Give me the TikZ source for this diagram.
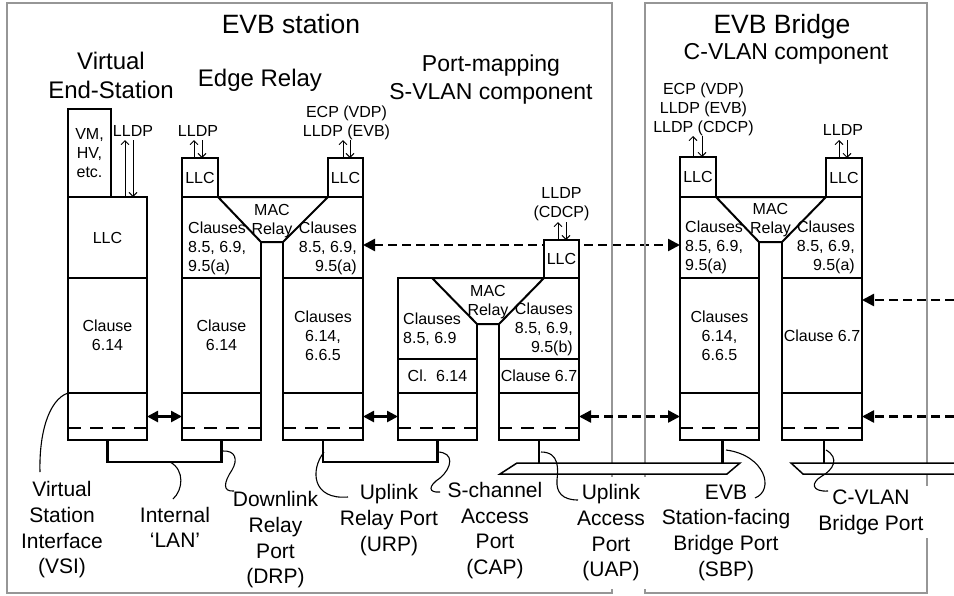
\documentclass[tikz,border=0pt]{standalone}
\usepackage{fontspec}
\setmainfont{Liberation Sans}
\usetikzlibrary{arrows.meta,backgrounds}
\definecolor{boxgray}{RGB}{150,150,150}
\newcommand\fsz[2]{\fontsize{#1}{#2}\selectfont}
\begin{document}
\begin{tikzpicture}[x=1pt,y=-1pt,
  graybox/.style={draw=boxgray,line width=1.6pt,inner sep=0pt,outer sep=0pt,anchor=north west},
  sect/.style={draw,line width=2pt,fill=white,inner sep=0pt,outer sep=0pt,anchor=north west,align=center,font=\fsz{16}{19}},
  trap/.style={draw,line width=2pt,fill=white},
  ctext/.style={inner sep=0pt,align=center,font=\fsz{16}{19}},
  ltext/.style={ctext,align=left,anchor=west},
  rtext/.style={ctext,align=right,anchor=east},
  head/.style={inner sep=0pt,align=center,font=\fsz{24}{29}},
  subhead/.style={inner sep=0pt,align=center,font=\fsz{23}{28}},
  title/.style={inner sep=0pt,align=center,font=\fsz{26.5}{31}},
  lab/.style={inner xsep=4pt,inner ysep=2pt,align=center,fill=white,font=\fsz{21}{25.7}},
  thinarr/.style={line width=0.9pt,>={Straight Barb[length=4pt,width=8pt]}},
  solidarr/.style={line width=2.5pt,{Triangle[length=11pt,width=11pt]}-{Triangle[length=11pt,width=11pt]}},
  dasharr/.style={line width=2.5pt,dash pattern=on 9pt off 5pt,>={Triangle[length=12pt,width=12pt]}},
  portdash/.style={line width=2.5pt,dash pattern=on 13pt off 9pt},
  lan/.style={line width=2.8pt},
  bus/.style={line width=1.5pt,fill=white},
  leader/.style={line width=1.1pt}
]
\useasboundingbox (0,0) rectangle (954,595);
\clip (0,0) rectangle (954,595);

% outer gray boxes
\node[graybox,minimum width=605pt,minimum height=590pt] (station) at (7,3) {};
\node[graybox,minimum width=282pt,minimum height=590pt] (bridge) at (645,3) {};

% headings
\node[title] (tStation) at (291,24) {EVB station};
\node[title] (tBridge) at (782,26.8) {EVB Bridge};
\node[subhead] (tCvlan) at (786,54) {C-VLAN component};
\node[head] (tVES) at (111,75.5) {Virtual\\End-Station};
\node[head] (tER) at (260,80) {Edge Relay};
\node[subhead] (tPM) at (491,80) {Port-mapping\\S-VLAN component};

% Virtual end-station
\node[sect,minimum width=43pt,minimum height=88pt] (vesVM) at (68,109) {VM,\\HV,\\etc.};
\node[sect,minimum width=79pt,minimum height=81pt] (vesT) at (68,197) {LLC};
\node[sect,minimum width=79pt,minimum height=115pt] (vesM) at (68,278) {Clause\\6.14};
\node[sect,minimum width=79pt,minimum height=47pt] (vesP) at (68,393) {};

% Edge relay
\node[sect,minimum width=79pt,minimum height=81pt] (erLT) at (182,197) {};
\node[sect,minimum width=79pt,minimum height=115pt] (erLM) at (182,278) {Clause\\6.14};
\node[sect,minimum width=79pt,minimum height=47pt] (erLP) at (182,393) {};
\node[sect,minimum width=80pt,minimum height=81pt] (erRT) at (283,197) {};
\node[sect,minimum width=80pt,minimum height=115pt] (erRM) at (283,278) {Clauses\\6.14,\\6.6.5};
\node[sect,minimum width=80pt,minimum height=47pt] (erRP) at (283,393) {};
\node[sect,minimum width=36pt,minimum height=39pt] (erLL) at (182,158) {LLC};
\node[sect,minimum width=35pt,minimum height=39pt] (erRL) at (328,158) {LLC};
\draw[trap] (erLL.south east) -- (erRL.south west) -- (283,242) -- (261,242) -- cycle;

% Port-mapping S-VLAN component
\node[sect,minimum width=79pt,minimum height=81pt] (pmLT) at (398,278) {};
\node[sect,minimum width=79pt,minimum height=34pt] (pmLM) at (398,359) {Cl.~~6.14};
\node[sect,minimum width=79pt,minimum height=47pt] (pmLP) at (398,393) {};
\node[sect,minimum width=80pt,minimum height=81pt] (pmRT) at (499,278) {};
\node[sect,minimum width=80pt,minimum height=34pt] (pmRM) at (499,359) {Clause 6.7};
\node[sect,minimum width=80pt,minimum height=47pt] (pmRP) at (499,393) {};
\node[sect,minimum width=35pt,minimum height=38pt] (pmLL) at (544,240) {LLC};
\draw[trap] (432,278) -- (pmLL.south west) -- (499,324) -- (477,324) -- cycle;

% EVB Bridge C-VLAN component
\node[sect,minimum width=79pt,minimum height=81pt] (brLT) at (680,197) {};
\node[sect,minimum width=79pt,minimum height=115pt] (brLM) at (680,278) {Clauses\\6.14,\\6.6.5};
\node[sect,minimum width=79pt,minimum height=47pt] (brLP) at (680,393) {};
\node[sect,minimum width=80pt,minimum height=81pt] (brRT) at (782,197) {};
\node[sect,minimum width=80pt,minimum height=115pt] (brRM) at (782,278) {Clause 6.7};
\node[sect,minimum width=80pt,minimum height=47pt] (brRP) at (782,393) {};
\node[sect,minimum width=36pt,minimum height=40pt] (brLL) at (680,157) {LLC};
\node[sect,minimum width=36pt,minimum height=39pt] (brRL) at (826,158) {LLC};
\draw[trap] (brLL.south east) -- (brRL.south west) -- (782,242) -- (759,242) -- cycle;

% dashed port lines
\foreach \n in {vesP,erLP,erRP,pmLP,pmRP,brLP,brRP}
  \draw[portdash] ([yshift=-11.5pt]\n.west) -- ([yshift=-11.5pt]\n.east);

% texts inside relays
\node[ctext] (macER) at (272,221.5) {MAC\\Relay};
\node[ctext] (macPM) at (488,302) {MAC\\Relay};
\node[ctext] (macBR) at (770.5,219.7) {MAC\\Relay};
\node[ltext] (clERL) at (188,248.7) {Clauses\\8.5, 6.9,\\9.5(a)};
\node[rtext] (clERR) at (357,248.7) {Clauses\\8.5, 6.9,\\9.5(a)};
\node[ltext] (clPML) at (403,329) {Clauses\\8.5, 6.9};
\node[rtext] (clPMR) at (573,329.7) {Clauses\\8.5, 6.9,\\9.5(b)};
\node[ltext] (clBRL) at (685,247.5) {Clauses\\8.5, 6.9,\\9.5(a)};
\node[rtext] (clBRR) at (855,247.5) {Clauses\\8.5, 6.9,\\9.5(a)};

% protocol texts and thin arrows
\node[ctext] (lldpVES) at (133,130.5) {LLDP};
\node[ctext] (lldpERL) at (198,130.5) {LLDP};
\node[ctext,font=\fsz{16}{19.5}] (ecpER) at (346.5,123) {ECP (VDP)\\LLDP (EVB)};
\node[ctext] (lldpPM) at (561.5,204) {LLDP\\(CDCP)};
\node[ctext] (ecpBR) at (703.5,109) {ECP (VDP)\\LLDP (EVB)\\LLDP (CDCP)};
\node[ctext] (lldpBRR) at (843,129.5) {LLDP};

\draw[thinarr,->] ([xshift=57pt]vesT.north west) -- ++(0,-57);
\draw[thinarr,<-] ([xshift=65pt]vesT.north west) -- ++(0,-57);
\draw[thinarr,->] ([xshift=12pt]erLL.north west) -- ++(0,-18);
\draw[thinarr,<-] ([xshift=20pt]erLL.north west) -- ++(0,-18);
\draw[thinarr,->] ([xshift=15pt]erRL.north west) -- ++(0,-18);
\draw[thinarr,<-] ([xshift=22pt]erRL.north west) -- ++(0,-18);
\draw[thinarr,->] ([xshift=14pt]pmLL.north west) -- ++(0,-18);
\draw[thinarr,<-] ([xshift=22pt]pmLL.north west) -- ++(0,-18);
\draw[thinarr,->] ([xshift=13pt]brLL.north west) -- ++(0,-21);
\draw[thinarr,<-] ([xshift=22pt]brLL.north west) -- ++(0,-21);
\draw[thinarr,->] ([xshift=13pt]brRL.north west) -- ++(0,-18);
\draw[thinarr,<-] ([xshift=21pt]brRL.north west) -- ++(0,-18);

% arrows between ports
\draw[solidarr] (vesP.east) -- (erLP.west);
\draw[solidarr] (erRP.east) -- (pmLP.west);
\begin{scope}[on background layer]
  \draw[dasharr,<->] ([yshift=-7.5pt]erRT.east) -- ([yshift=-7.5pt]brLT.west);
\end{scope}
\draw[dasharr,<->] (pmRP.east) -- (brLP.west);
\coordinate (rin1) at (954,300);
\coordinate (rin2) at (954,416.5);
\draw[dasharr,->] (rin1) -- (brRM.east |- rin1);
\draw[dasharr,->] (rin2) -- (brRP.east);

% LANs and buses
\draw[bus] (500,474) -- (517,463) -- (740,463) -- (727,474) -- cycle;
\draw[bus] (962,463) -- (791,463) -- (803,474) -- (962,474);
\draw[lan] (vesP.south) -- ++(0,22) -| (erLP.south);
\draw[lan] (erRP.south) -- ++(0,22) -| (pmLP.south);
\draw[lan] (pmRP.south) -- ++(0,23);
\draw[lan] ([xshift=3pt]brLP.south) -- ++(0,23);
\draw[lan] ([xshift=2pt]brRP.south) -- ++(0,23);

% bottom labels
\node[lab] (vsi) at (62,530) {Virtual\\Station\\Interface\\(VSI)};
\node[lab] (ilan) at (175,527.5) {Internal\\‘LAN’};
\node[lab] (drp) at (275.5,540) {Downlink\\Relay\\Port\\(DRP)};
\node[lab] (urp) at (389,520) {Uplink\\Relay Port\\(URP)};
\node[lab] (cap) at (495,530.7) {S-channel\\Access\\Port\\(CAP)};
\node[lab,inner ysep=8pt] (uap) at (611,533) {Uplink\\Access\\Port\\(UAP)};
\node[lab] (sbp) at (726,532.7) {EVB\\Station-facing\\Bridge Port\\(SBP)};
\node[lab,inner ysep=4pt] (cvbp) at (871,512) {C-VLAN\\Bridge Port};

% leader lines
\draw[leader] (vesP.north west) .. controls (48,400) and (39,435) .. (40,472);
\draw[leader] (170,462) .. controls (185,470) and (183,490) .. (173,499);
\draw[leader] (222,451) .. controls (236,450) and (238,460) .. (232,470) .. controls (224,482) and (222,492) .. (234,491);
\draw[leader] (324,452) .. controls (310,470) and (312,500) .. (348,497);
\draw[leader] (437,452) .. controls (455,452) and (452,468) .. (440,478) .. controls (428,486) and (428,493) .. (440,492);
\draw[leader] (541,452) .. controls (560,452) and (558,470) .. (557,480) .. controls (556,492) and (562,500) .. (578,500);
\draw[leader] (726,450) .. controls (765,455) and (775,490) .. (755,498);
\draw[leader] (826,450) .. controls (840,458) and (833,470) .. (822,476) .. controls (810,483) and (812,492) .. (828,491);
\end{tikzpicture}
\end{document}
